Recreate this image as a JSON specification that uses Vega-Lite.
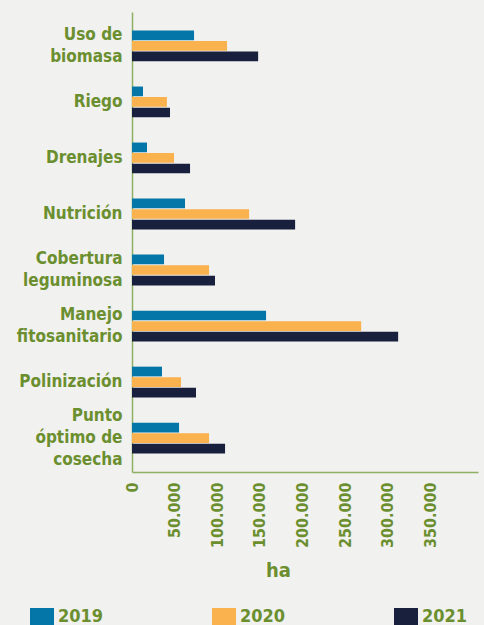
{
  "$schema": "https://vega.github.io/schema/vega-lite/v6.json",
  "width": 346,
  "height": 460,
  "autosize": {"type": "none"},
  "padding": {"left": 132, "top": 12, "right": 6, "bottom": 153},
  "background": "#f1f1ef",
  "config": {
    "view": {"stroke": null},
    "font": "DejaVu Sans Condensed"
  },
  "data": {
    "values": [
      {"category": "Uso de\nbiomasa", "year": "2019", "ha": 72800},
      {"category": "Uso de\nbiomasa", "year": "2020", "ha": 111500},
      {"category": "Uso de\nbiomasa", "year": "2021", "ha": 148000},
      {"category": "Riego", "year": "2019", "ha": 12900},
      {"category": "Riego", "year": "2020", "ha": 41000},
      {"category": "Riego", "year": "2021", "ha": 44600},
      {"category": "Drenajes", "year": "2019", "ha": 17600},
      {"category": "Drenajes", "year": "2020", "ha": 49300},
      {"category": "Drenajes", "year": "2021", "ha": 68100},
      {"category": "Nutrición", "year": "2019", "ha": 62200},
      {"category": "Nutrición", "year": "2020", "ha": 137400},
      {"category": "Nutrición", "year": "2021", "ha": 191400},
      {"category": "Cobertura\nleguminosa", "year": "2019", "ha": 37600},
      {"category": "Cobertura\nleguminosa", "year": "2020", "ha": 90400},
      {"category": "Cobertura\nleguminosa", "year": "2021", "ha": 97400},
      {"category": "Manejo\nfitosanitario", "year": "2019", "ha": 157300},
      {"category": "Manejo\nfitosanitario", "year": "2020", "ha": 268900},
      {"category": "Manejo\nfitosanitario", "year": "2021", "ha": 312300},
      {"category": "Polinización", "year": "2019", "ha": 35200},
      {"category": "Polinización", "year": "2020", "ha": 57500},
      {"category": "Polinización", "year": "2021", "ha": 75100},
      {"category": "Punto\nóptimo de\ncosecha", "year": "2019", "ha": 55200},
      {"category": "Punto\nóptimo de\ncosecha", "year": "2020", "ha": 90400},
      {"category": "Punto\nóptimo de\ncosecha", "year": "2021", "ha": 109200}
    ]
  },
  "mark": {"type": "bar"},
  "encoding": {
    "y": {
      "field": "category",
      "type": "nominal",
      "sort": null,
      "scale": {"paddingInner": 0.45, "paddingOuter": 0.33},
      "axis": {
        "title": null,
        "labelExpr": "split(datum.value, '\\n')",
        "labelFont": "DejaVu Sans Condensed",
        "labelFontWeight": "bold",
        "labelFontSize": 17,
        "labelLineHeight": 22,
        "labelColor": "#6b8f2f",
        "labelPadding": 10,
        "labelOffset": {
          "condition": [
            {"test": "length(split(datum.value, '\\n')) == 3", "value": -22},
            {"test": "length(split(datum.value, '\\n')) == 2", "value": -11}
          ],
          "value": 0
        },
        "ticks": false,
        "domainColor": "#8fb164",
        "domainWidth": 1.5,
        "labelLimit": 200
      }
    },
    "yOffset": {"field": "year", "type": "nominal", "sort": ["2019", "2020", "2021"], "scale": {"paddingInner": 0.08}},
    "x": {
      "field": "ha",
      "type": "quantitative",
      "scale": {"domain": [0, 406000], "nice": false},
      "axis": {
        "title": "ha",
        "titleX": 146,
        "titleY": 88,
        "titleFont": "DejaVu Sans Condensed",
        "titleFontWeight": "bold",
        "titleFontSize": 20,
        "titleColor": "#6b8f2f",
        "values": [0, 50000, 100000, 150000, 200000, 250000, 300000, 350000],
        "labelExpr": "replace(format(datum.value, ',d'), ',', '.')",
        "labelAngle": 270,
        "labelAlign": "right",
        "labelBaseline": "middle",
        "labelFont": "DejaVu Sans Condensed",
        "labelFontWeight": "bold",
        "labelFontSize": 16,
        "labelColor": "#6b8f2f",
        "labelPadding": 10,
        "ticks": false,
        "grid": false,
        "domainColor": "#8fb164",
        "domainWidth": 1.5
      }
    },
    "color": {
      "field": "year",
      "type": "nominal",
      "scale": {"domain": ["2019", "2020", "2021"], "range": ["#0477a8", "#f9b24e", "#19203d"]},
      "legend": {
        "title": null,
        "orient": "none",
        "legendX": -102,
        "legendY": 593,
        "direction": "horizontal",
        "columns": 3,
        "columnPadding": 108,
        "symbolType": "M-1,-0.75H1V0.75H-1Z",
        "symbolSize": 576,
        "symbolStrokeWidth": 0,
        "symbolOpacity": 1,
        "labelFont": "DejaVu Sans Condensed",
        "labelFontWeight": "bold",
        "labelFontSize": 18,
        "labelColor": "#6b8f2f",
        "labelOffset": 4
      }
    }
  }
}
